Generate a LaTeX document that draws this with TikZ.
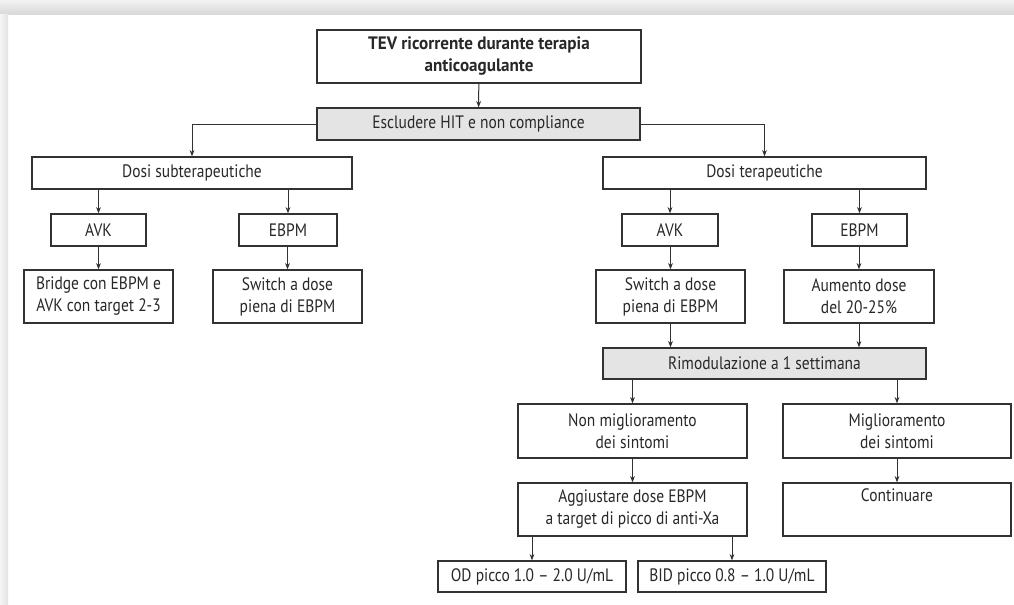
\documentclass[tikz,border=0pt]{standalone}
\usepackage{fontspec}
\setmainfont{PT Sans}[FakeStretch=0.86, BoldFeatures={FakeStretch=0.95}]
\usetikzlibrary{arrows.meta}
\definecolor{fcline}{RGB}{50,50,50}
\definecolor{fctext}{RGB}{40,40,40}
\definecolor{fcgray}{RGB}{228,228,228}
\tikzset{
  box/.style={draw=fcline, line width=0.6pt, fill=white, text=fctext,
    inner sep=0pt, align=center, font=\fontsize{9}{11}\selectfont},
  graybox/.style={box, fill=fcgray},
  arr/.style={draw=fcline, line width=0.5pt, -{Stealth[length=3.2pt,width=2.4pt]}}
}

\begin{document}
\begin{tikzpicture}[x=0.5pt, y=-0.5pt]
  % Page frame with grey shadow bands
  \useasboundingbox (0,0) rectangle (1014,605);
  \shade[top color=gray!10, bottom color=gray!30] (0,0) rectangle (1014,14);
  \shade[left color=gray!8, right color=gray!22] (0,14) rectangle (8,605);

  % Top: start and exclusion step
  \node[box, font=\bfseries\fontsize{9}{11}\selectfont,
        minimum width=162pt, minimum height=26.5pt] (tev) at (479,56.5)
    {TEV ricorrente durante terapia\\anticoagulante};
  \node[graybox, minimum width=161.5pt, minimum height=16pt] (escl) at (478.5,124)
    {Escludere HIT e non compliance};
  \draw[arr] (tev) -- (escl);

  % Left branch: subtherapeutic doses
  \node[box, minimum width=160pt, minimum height=16pt] (dosisub) at (192,173)
    {Dosi subterapeutiche};
  \node[box, minimum width=47.5pt, minimum height=16pt] (avkL) at (98.5,230) {AVK};
  \node[box, minimum width=49pt, minimum height=16pt] (ebpmL) at (288,230) {EBPM};
  \node[box, minimum width=74.5pt, minimum height=26.5pt] (bridge) at (98.5,296.5)
    {Bridge con EBPM e\\AVK con target 2-3};
  \node[box, minimum width=74.5pt, minimum height=26.5pt] (switchL) at (287.5,296.5)
    {Switch a dose\\piena di EBPM};
  \draw[arr] (escl.west) -| (dosisub.north);
  \draw[arr] (dosisub.south -| avkL.north) -- (avkL.north);
  \draw[arr] (dosisub.south -| ebpmL.north) -- (ebpmL.north);
  \draw[arr] (avkL) -- (bridge);
  \draw[arr] (ebpmL.south -| switchL.north) -- (switchL.north);

  % Right branch: therapeutic doses
  \node[box, minimum width=161.5pt, minimum height=16pt] (dositer) at (764.5,173)
    {Dosi terapeutiche};
  \node[box, minimum width=48pt, minimum height=16pt] (avkR) at (670,230) {AVK};
  \node[box, minimum width=47.5pt, minimum height=16pt] (ebpmR) at (859.5,230) {EBPM};
  \node[box, minimum width=74.5pt, minimum height=26.5pt] (switchR) at (670.5,296.5)
    {Switch a dose\\piena di EBPM};
  \node[box, minimum width=75pt, minimum height=26.5pt] (aumento) at (859,296.5)
    {Aumento dose\\del 20-25\%};
  \draw[arr] (escl.east) -| (dositer.north);
  \draw[arr] (dositer.south -| avkR.north) -- (avkR.north);
  \draw[arr] (dositer.south -| ebpmR.north) -- (ebpmR.north);
  \draw[arr] (avkR.south -| switchR.north) -- (switchR.north);
  \draw[arr] (ebpmR.south -| aumento.north) -- (aumento.north);

  % Reassessment after one week
  \node[graybox, minimum width=161.5pt, minimum height=15.5pt] (rimod) at (764.5,363.5)
    {Rimodulazione a 1 settimana};
  \draw[arr] (switchR.south) -- (switchR.south |- rimod.north);
  \draw[arr] (aumento.south) -- (aumento.south |- rimod.north);

  \node[box, minimum width=114.5pt, minimum height=27pt] (nonmigl) at (632.5,431)
    {Non miglioramento\\dei sintomi};
  \node[box, minimum width=114pt, minimum height=27pt] (migl) at (897,431)
    {Miglioramento\\dei sintomi};
  \draw[arr] (rimod.south -| nonmigl.north) -- (nonmigl.north);
  \draw[arr] (rimod.south -| migl.north) -- (migl.north);

  \node[box, minimum width=114.5pt, minimum height=26.5pt] (aggiust) at (632.5,509.5)
    {Aggiustare dose EBPM\\a target di picco di anti-Xa};
  \node[box, minimum width=114pt, minimum height=26.5pt] (contin) at (897,509.5)
    {Continuare\\\strut};
  \draw[arr] (nonmigl) -- (aggiust);
  \draw[arr] (migl) -- (contin);

  % Anti-Xa peak targets
  \node[box, minimum width=94pt, minimum height=15.5pt] (od) at (532,576.5)
    {OD picco 1.0 -- 2.0 U/mL};
  \node[box, minimum width=94pt, minimum height=15.5pt] (bid) at (732,576.5)
    {BID picco 0.8 -- 1.0 U/mL};
  \draw[arr] (aggiust.south -| od.north) -- (od.north);
  \draw[arr] (aggiust.south -| bid.north) -- (bid.north);
\end{tikzpicture}
\end{document}
